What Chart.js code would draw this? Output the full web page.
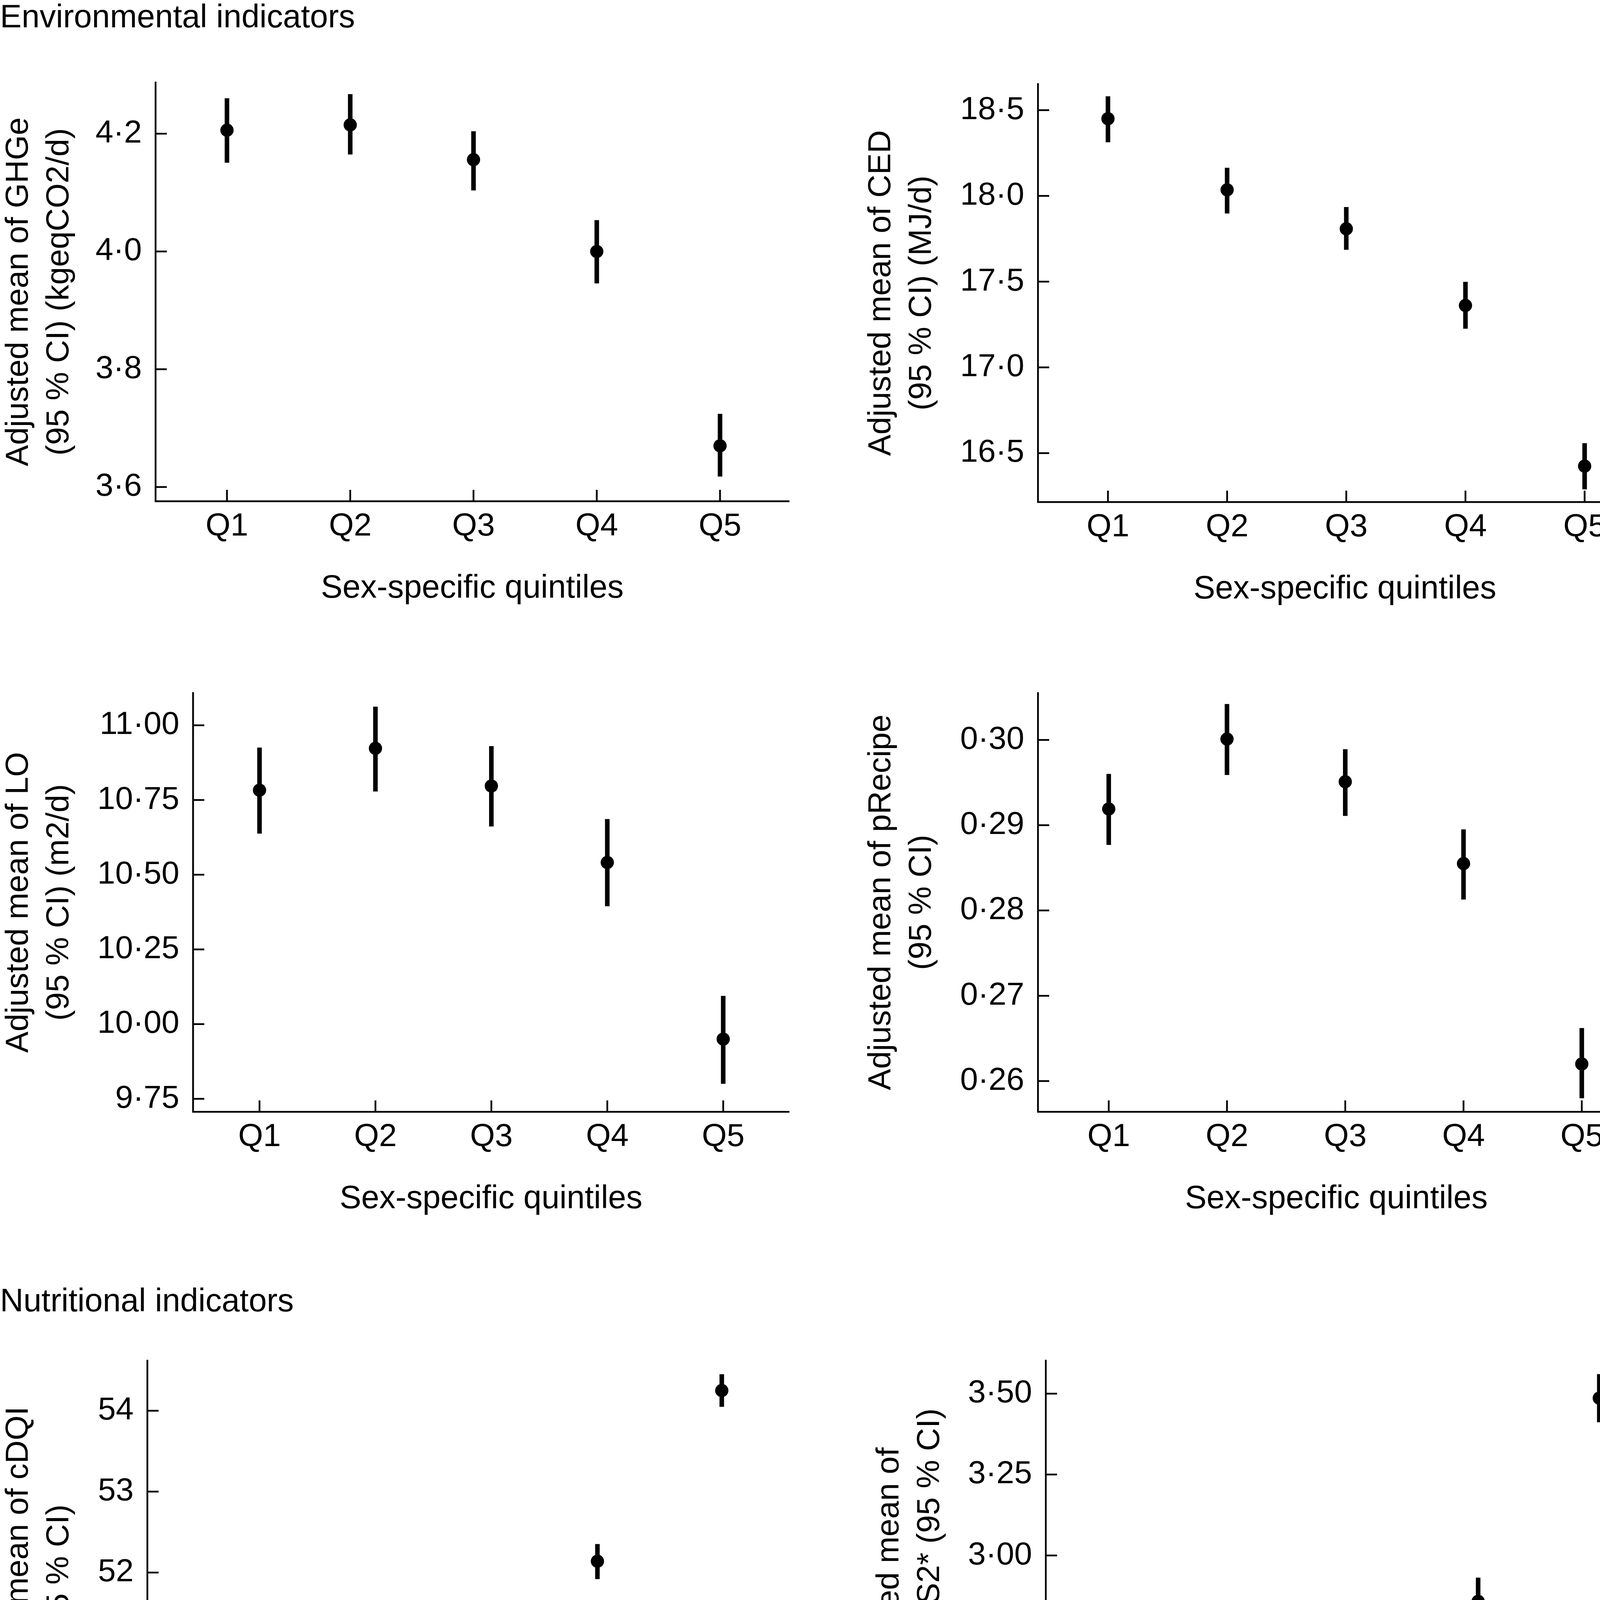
<!DOCTYPE html>
<html>
<head>
<meta charset="utf-8">
<script src="https://cdn.jsdelivr.net/npm/chart.js@4.4.0/dist/chart.umd.min.js"></script>
<style>
html, body { margin: 0; padding: 0; background: #fff; overflow: hidden; }
body { position: relative; width: 4285px; height: 6566px; }
canvas { position: absolute; }
.head { position: absolute; font-family: 'Liberation Sans', Arial, sans-serif; font-size: 83px; line-height: 83px; color: #000; white-space: nowrap; }
</style>
</head>
<body>
<div class="head" style="left:0px;top:0px">Environmental indicators</div>
<div class="head" style="left:0px;top:3287px">Nutritional indicators</div>
<div class="head" style="left:0px;top:5008px">Monetary cost of diet</div>
<div class="head" style="left:2238px;top:5008px">Share of organic food in the diet</div>
<script>
// categories
const quintiles = ['Q1', 'Q2', 'Q3', 'Q4', 'Q5'];
const xTitle = 'Sex-specific quintiles';

// GHGe
const ghgeMean = [4.206, 4.215, 4.156, 4.000, 3.670];
const ghgeLow = [4.151, 4.165, 4.104, 3.946, 3.618];
const ghgeHigh = [4.260, 4.267, 4.204, 4.053, 3.724];
const ghgeTicks = [3.6, 3.8, 4.0, 4.2];
const ghgeRange = [3.576, 4.287];

// CED
const cedMean = [18.45, 18.035, 17.808, 17.361, 16.424];
const cedLow = [18.313, 17.898, 17.686, 17.226, 16.289];
const cedHigh = [18.58, 18.163, 17.934, 17.498, 16.557];
const cedTicks = [16.5, 17.0, 17.5, 18.0, 18.5];
const cedRange = [16.215, 18.652];

// LO
const loMean = [10.783, 10.923, 10.797, 10.541, 9.950];
const loLow = [10.638, 10.779, 10.662, 10.395, 9.801];
const loHigh = [10.925, 11.062, 10.930, 10.686, 10.094];
const loTicks = [9.75, 10.00, 10.25, 10.50, 10.75, 11.00];
const loRange = [9.707, 11.108];

// pRecipe
const recipeMean = [0.2919, 0.3001, 0.2951, 0.2855, 0.2620];
const recipeLow = [0.2877, 0.2959, 0.2911, 0.2813, 0.2580];
const recipeHigh = [0.2960, 0.3042, 0.2989, 0.2895, 0.2662];
const recipeTicks = [0.26, 0.27, 0.28, 0.29, 0.30];
const recipeRange = [0.2564, 0.3055];

// cDQI
const cdqiMean = [49.76, 50.41, 51.11, 52.14, 54.25];
const cdqiLow = [49.55, 50.19, 50.91, 51.92, 54.05];
const cdqiHigh = [49.96, 50.62, 51.31, 52.35, 54.45];
const cdqiTicks = [50, 51, 52, 53, 54];
const cdqiRange = [49.39, 54.62];

// PNNS_GS2
const pnnsMean = [2.408, 2.424, 2.500, 2.858, 3.486];
const pnnsLow = [2.333, 2.350, 2.427, 2.779, 3.412];
const pnnsHigh = [2.483, 2.500, 2.566, 2.931, 3.560];
const pnnsTicks = [2.50, 2.75, 3.00, 3.25, 3.50];
const pnnsRange = [2.295, 3.602];

// cost
const costMean = [7.807, 7.612, 7.583, 7.666, 7.892];
const costLow = [7.754, 7.558, 7.536, 7.614, 7.841];
const costHigh = [7.858, 7.661, 7.632, 7.719, 7.944];
const costTicks = [7.6, 7.7, 7.8, 7.9];
const costRange = [7.521, 7.958];

// organic
const orgMean = [0.2304, 0.2483, 0.2684, 0.3209, 0.4198];
const orgLow = [0.2232, 0.2413, 0.2620, 0.3133, 0.4124];
const orgHigh = [0.2373, 0.2551, 0.2747, 0.3278, 0.4264];
const orgTicks = [0.25, 0.30, 0.35, 0.40];
const orgRange = [0.2169, 0.4323];

// box = plot area in page px [left, top, right, bottom], tx = centre of first title line
const panels = [
  {mean: ghgeMean, low: ghgeLow, high: ghgeHigh, ticks: ghgeTicks, range: ghgeRange, dec: 1,
   title: ['Adjusted mean of GHGe', '(95 % CI) (kgeqCO2/d)'], box: [398, 167, 2034, 1283], tx: 48, xr: [0.42, 5.56]},
  {mean: cedMean, low: cedLow, high: cedHigh, ticks: cedTicks, range: cedRange, dec: 1,
   title: ['Adjusted mean of CED', '(95 % CI) (MJ/d)'], box: [2657, 171, 4243, 1285], tx: 2256, xr: [0.412, 5.565]},
  {mean: loMean, low: loLow, high: loHigh, ticks: loTicks, range: loRange, dec: 2,
   title: ['Adjusted mean of LO', '(95 % CI) (m2/d)'], box: [494, 1730, 2034, 2846], tx: 48, xr: [0.426, 5.568]},
  {mean: recipeMean, low: recipeLow, high: recipeHigh, ticks: recipeTicks, range: recipeRange, dec: 2,
   title: ['Adjusted mean of pRecipe', '(95 % CI)'], box: [2657, 1730, 4199, 2846], tx: 2256, xr: [0.401, 5.448]},
  {mean: cdqiMean, low: cdqiLow, high: cdqiHigh, ticks: cdqiTicks, range: cdqiRange, dec: 0,
   title: ['Adjusted mean of cDQI', '(95 % CI)'], box: [377, 3439, 2054, 4566], tx: 48, xr: [0.38, 5.604]},
  {mean: pnnsMean, low: pnnsLow, high: pnnsHigh, ticks: pnnsTicks, range: pnnsRange, dec: 2,
   title: ['Adjusted mean of', 'PNNS_GS2* (95 % CI)'], box: [2677, 3439, 4285, 4566], tx: 2277, xr: [0.431, 5.57]},
  {mean: costMean, low: costLow, high: costHigh, ticks: costTicks, range: costRange, dec: 1,
   title: ['Adjusted mean of daily', 'cost of diet (95 % CI) (€)'], box: [401, 5162, 2054, 6289], tx: 48, xr: [0.427, 5.559]},
  {mean: orgMean, low: orgLow, high: orgHigh, ticks: orgTicks, range: orgRange, dec: 2,
   title: ['Adjusted mean of organic', 'food in the diet (95 % CI)', '(%, grams)'], box: [2777, 5162, 4285, 6289], tx: 2277, xr: [0.369, 5.636]}
];

Chart.defaults.font.family = "'Liberation Sans', Arial, sans-serif";
Chart.defaults.color = '#000';

const LH = 104;   // y title line height
const TOP = 40;   // space above plot area
const XH = 274;   // x axis block height
const TICK = 29;  // inward tick length

// ticks point into the plot area
const innerTicks = {
  id: 'innerTicks',
  afterDraw(chart) {
    const ctx = chart.ctx, area = chart.chartArea;
    const sx = chart.scales.x, sy = chart.scales.y;
    ctx.save();
    ctx.strokeStyle = '#000';
    ctx.lineWidth = 4.5;
    ctx.beginPath();
    sx.ticks.forEach(t => {
      const px = sx.getPixelForValue(t.value);
      ctx.moveTo(px, area.bottom);
      ctx.lineTo(px, area.bottom - TICK);
    });
    sy.ticks.forEach(t => {
      const py = sy.getPixelForValue(t.value);
      ctx.moveTo(area.left, py);
      ctx.lineTo(area.left + TICK, py);
    });
    ctx.stroke();
    ctx.restore();
  }
};

panels.forEach(p => {
  const [L, T, R, B] = p.box;
  const left = p.tx - LH / 2;
  const top = T - TOP;
  const cv = document.createElement('canvas');
  cv.width = R - left + 3;
  cv.height = B + XH - top;
  cv.style.left = left + 'px';
  cv.style.top = top + 'px';
  cv.style.width = cv.width + 'px';
  cv.style.height = cv.height + 'px';
  document.body.appendChild(cv);

  new Chart(cv, {
    type: 'scatter',
    data: {
      datasets: [
        {
          type: 'scatter',
          data: quintiles.map((q, i) => ({x: i + 1, y: p.mean[i]})),
          pointRadius: 17,
          pointHoverRadius: 17,
          pointBackgroundColor: '#000',
          pointBorderWidth: 0
        },
        {
          type: 'bar',
          data: quintiles.map((q, i) => ({x: i + 1, y: [p.low[i], p.high[i]]})),
          backgroundColor: '#000',
          borderWidth: 0,
          barThickness: 11
        }
      ]
    },
    options: {
      responsive: false,
      animation: false,
      layout: {padding: {top: TOP, right: 3, left: 0, bottom: 0}},
      plugins: {legend: {display: false}, tooltip: {enabled: false}},
      scales: {
        x: {
          type: 'linear',
          min: p.xr[0],
          max: p.xr[1],
          offset: false,
          afterBuildTicks: s => { s.ticks = quintiles.map((q, i) => ({value: i + 1})); },
          afterFit: s => { s.height = XH; },
          grid: {display: false, drawTicks: false},
          border: {display: true, color: '#000', width: 4.5},
          ticks: {
            color: '#000', font: {size: 82}, padding: 16, maxRotation: 0, autoSkip: false,
            callback: v => quintiles[Math.round(v) - 1]
          },
          title: {display: true, text: xTitle, color: '#000', font: {size: 83, lineHeight: 1.2}, padding: 0}
        },
        y: {
          type: 'linear',
          min: p.range[0],
          max: p.range[1],
          afterBuildTicks: s => { s.ticks = p.ticks.map(v => ({value: v})); },
          afterFit: s => { s.width = L - left; },
          grid: {display: false, drawTicks: false},
          border: {display: true, color: '#000', width: 4.5},
          ticks: {
            color: '#000', font: {size: 82}, padding: 35, autoSkip: false,
            callback: v => v.toFixed(p.dec).replace('.', '·')
          },
          title: {display: true, text: p.title, color: '#000', font: {size: 82, lineHeight: LH / 82}, padding: 0}
        }
      }
    },
    plugins: [innerTicks]
  });
});
</script>
</body>
</html>
